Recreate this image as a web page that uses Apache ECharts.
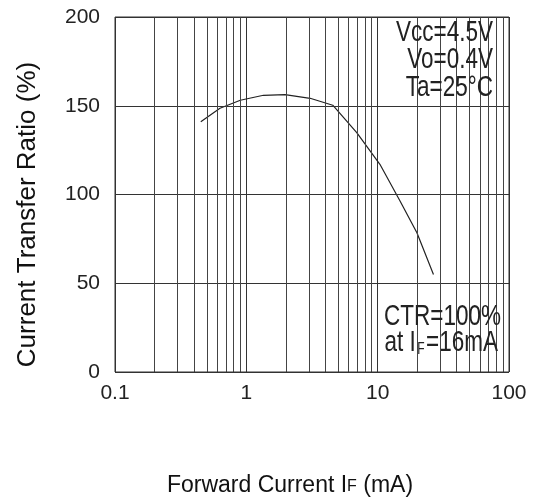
<!DOCTYPE html>
<html>
<head>
<meta charset="utf-8">
<script src="https://cdn.jsdelivr.net/npm/echarts@6/dist/echarts.min.js"></script>
<style>
  html, body { margin: 0; padding: 0; background: #fff; }
  #main { width: 533px; height: 500px; }
</style>
</head>
<body>
<div id="main"></div>
<script>
// forward current IF (mA) and current transfer ratio (%)
var ifValues = [0.45, 0.63, 0.9, 1.35, 1.97, 3.06, 4.55, 6.93, 10.4, 14.8, 19.9, 26.6];
var ctrValues = [141, 148.6, 153.1, 155.9, 156.3, 154.2, 150.3, 134.9, 117, 96.3, 78.4, 54.9];

var xTicks = [0.1, 1, 10, 100];
var yTicks = [0, 50, 100, 150, 200];
// log-grid lines between the decades
var minorLines = [0.2, 0.3, 0.4, 0.5, 0.6, 0.7, 0.8, 0.9,
                  2, 3, 4, 5, 6, 7, 8, 9,
                  20, 30, 40, 50, 60, 70, 80, 90];

var conditionLines = ['Vcc=4.5V', 'Vo=0.4V', 'Ta=25°C'];
var noteLines = ['CTR=100%', 'at I{s|F}=16mA'];

var font = 'Liberation Sans, Arial, sans-serif';
var chart = echarts.init(document.getElementById('main'));

var curveData = ifValues.map(function (x, i) { return [x, ctrValues[i]]; });

var graphics = [];
var topY = [33, 60, 87.5];
conditionLines.forEach(function (t, i) {
  graphics.push({
    type: 'text', x: 493, y: topY[i], scaleX: 0.75, z: 20,
    style: { text: t, fontSize: 30, fontFamily: font, fill: '#222',
             align: 'right', verticalAlign: 'middle' }
  });
});
var noteY = [317, 343];
var noteX = [501, 498];
noteLines.forEach(function (t, i) {
  graphics.push({
    type: 'text', x: noteX[i], y: noteY[i], scaleX: 0.75, z: 20,
    style: { text: t, fontSize: 30, fontFamily: font, fill: '#222',
             align: 'right', verticalAlign: 'middle',
             rich: { s: { fontSize: 16, fontFamily: font, fill: '#222',
                          verticalAlign: 'bottom', padding: [13, 2, 0, 2] } } }
  });
});

chart.setOption({
  animation: false,
  backgroundColor: '#fff',
  textStyle: { fontFamily: font },
  grid: {
    left: 115, right: 24, top: 17, bottom: 128,
    outerBoundsMode: 'none',
    show: true, borderColor: '#333', borderWidth: 1, z: 10
  },
  xAxis: {
    type: 'log', logBase: 10, min: 0.1, max: 100,
    name: 'Forward Current I{s|F} (mA)',
    nameLocation: 'middle', nameGap: 102,
    nameTextStyle: {
      fontSize: 23, color: '#111', fontFamily: font, padding: [0, 44, 0, 0],
      rich: { s: { fontSize: 16, color: '#111', fontFamily: font, padding: [3, 0, 0, 0] } }
    },
    axisLine: { show: false },
    axisTick: { show: false },
    axisLabel: {
      fontSize: 21, color: '#222', margin: 11,
      formatter: function (v) {
        for (var i = 0; i < xTicks.length; i++) {
          if (Math.abs(v - xTicks[i]) < 1e-9) return String(xTicks[i]);
        }
        return '';
      }
    },
    splitLine: { show: true, lineStyle: { color: '#333', width: 1 } }
  },
  yAxis: {
    type: 'value', min: yTicks[0], max: yTicks[yTicks.length - 1], interval: 50,
    z: 5,
    name: 'Current Transfer Ratio (%)',
    nameLocation: 'middle', nameGap: 74, nameRotate: 90,
    nameTextStyle: { fontSize: 26, color: '#111', fontFamily: font, padding: [0, 40, 0, 0] },
    axisLine: { show: false },
    axisTick: { show: false },
    axisLabel: { fontSize: 21, color: '#222', margin: 15 },
    splitLine: { show: true, lineStyle: { color: '#333', width: 1 } }
  },
  graphic: graphics,
  series: [
    {
      name: 'minor grid',
      type: 'line', z: 1, silent: true, data: [],
      markLine: {
        silent: true, symbol: 'none', animation: false,
        label: { show: false },
        lineStyle: { color: '#444', width: 1, type: 'solid' },
        data: minorLines.map(function (v) { return { xAxis: v }; })
      }
    },
    {
      name: 'boxes',
      type: 'line', z: 2, silent: true, data: [],
      markArea: {
        silent: true,
        itemStyle: { color: '#fff', opacity: 1 },
        data: [
          [{ xAxis: 10.25, yAxis: 150 }, { xAxis: 100, yAxis: 200 }],
          [{ xAxis: 10.25, yAxis: 0 }, { xAxis: 100, yAxis: 50 }]
        ]
      }
    },
    {
      name: 'CTR',
      type: 'line', z: 3,
      data: curveData,
      showSymbol: false,
      lineStyle: { color: '#222', width: 1.2 }
    }
  ]
});
</script>
</body>
</html>
